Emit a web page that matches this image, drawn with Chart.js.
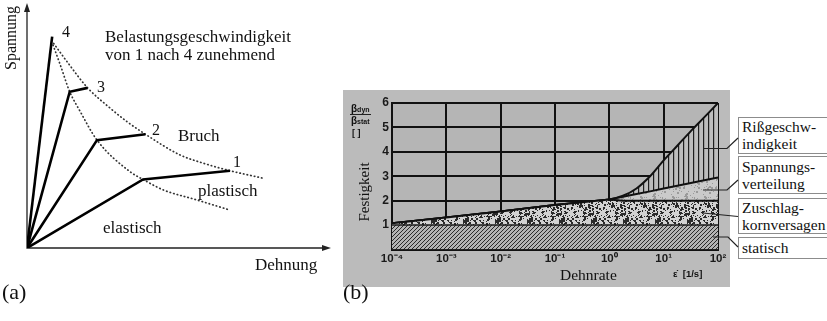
<!DOCTYPE html>
<html>
<head>
<meta charset="utf-8">
<script src="https://cdn.jsdelivr.net/npm/chart.js@4.4.1/dist/chart.umd.min.js"></script>
<style>
  body { margin: 0; width: 827px; height: 321px; position: relative; overflow: hidden; background: #fff; }
  canvas { position: absolute; }
  #chartA { left: 0; top: 0; }
  #chartB { left: 343px; top: 90px; background: #bbbbbb; }
  .t { position: absolute; white-space: nowrap; line-height: 1; color: #111; }
  .serif { font-family: "Liberation Serif", "Times New Roman", serif; }
  .sans { font-family: "Liberation Sans", Arial, sans-serif; font-weight: bold; }
  .box { position: absolute; left: 738px; width: 100px; border: 1.5px solid #8c8c8c; background: #fff;
         font-family: "Liberation Serif", serif; font-size: 15.5px; line-height: 16.5px; color: #111;
         padding-left: 3px; box-sizing: border-box; }
  #leaders { position: absolute; left: 0; top: 0; }
</style>
</head>
<body>
<canvas id="chartA" width="332" height="255"></canvas>
<canvas id="chartB" width="387" height="197"></canvas>

<div class="box" style="top:117px;height:37px;padding-top:1px">Rißgeschw-<br>indigkeit</div>
<div class="box" style="top:156px;height:38px;padding-top:2px">Spannungs-<br>verteilung</div>
<div class="box" style="top:198px;height:36px;padding-top:1px">Zuschlag-<br>kornversagen</div>
<div class="box" style="top:236.5px;height:22px;padding-top:2px">statisch</div>

<svg id="leaders" width="827" height="321">
  <g fill="none" stroke="#222" stroke-width="1.2">
    <polyline points="703,148.5 727,148.5 738,138"/>
    <polyline points="703,190 727,190 738,180"/>
    <polyline points="703,213 738,216.5"/>
    <polyline points="713,237 728,237 738,247"/>
  </g>
</svg>

<script>
// (a) Spannung-Dehnung, values in axis units 0..100
const curve1 = [[0, 0], [38.3, 28.2], [67.0, 31.8]];
const curve2 = [[0, 0], [23.1, 44.4], [39.1, 46.8]];
const curve3 = [[0, 0], [14.1, 64.3], [20.0, 65.9]];
const curve4 = [[0, 0], [8.3, 87.0]];
const bruchCurve = [[8.8, 84.2], [13.2, 76.7], [20.0, 65.9], [27.5, 57.5], [33.0, 52.0],
                    [39.1, 46.8], [50.5, 38.3], [58.2, 34.9], [67.0, 31.8], [78.0, 28.7]];
const fliessCurve = [[8.6, 83.5], [11.0, 75.3], [14.1, 64.3], [17.6, 56.1], [23.1, 44.4],
                     [34.0, 31.4], [38.3, 28.2], [45.0, 23.9], [56.0, 19.8], [67.0, 15.6]];

// (b) Festigkeit vs Dehnrate
const rateX = [1e-4, 1e-3, 1e-2, 1e-1, 1, 1.78, 3.16, 5.62, 10, 17.8, 31.6, 56.2, 100];
const statisch = [1, 1, 1, 1, 1, 1, 1, 1, 1, 1, 1, 1, 1];
const zuschlag = [1.07, 1.31, 1.56, 1.82, 2.05, 2.0, 2.0, 2.0, 2.0, 2.0, 2.0, 2.0, 2.0];
const spannung = [1.07, 1.31, 1.56, 1.82, 2.05, 2.16, 2.27, 2.38, 2.5, 2.61, 2.72, 2.84, 2.95];
const riss = [1.07, 1.31, 1.56, 1.82, 2.05, 2.2, 2.5, 3.0, 3.65, 4.25, 4.85, 5.42, 6.0];
const rateTicks = [1e-4, 1e-3, 1e-2, 1e-1, 1, 10, 100];
const rateTickLabels = ['10⁻⁴', '10⁻³', '10⁻²', '10⁻¹', '10⁰', '10¹', '10²'];

const toXY = arr => arr.map(p => ({ x: p[0], y: p[1] }));
const alongRate = vals => vals.map((v, i) => ({ x: rateX[i], y: v }));

// text helper: x = left edge, y = baseline
function label(text, x, y, size, cls, extra) {
    const d = document.createElement('div');
    d.className = 't ' + cls;
    d.innerHTML = text;
    d.style.left = x + 'px';
    d.style.top = (y - 0.84 * size) + 'px';
    d.style.fontSize = size + 'px';
    if (extra) Object.assign(d.style, extra);
    document.body.appendChild(d);
}
function rotated(text, cx, cy, size, cls) {
    const d = document.createElement('div');
    d.className = 't ' + cls;
    d.textContent = text;
    d.style.left = cx + 'px';
    d.style.top = cy + 'px';
    d.style.fontSize = size + 'px';
    d.style.transform = 'translate(-50%,-50%) rotate(-90deg)';
    document.body.appendChild(d);
}

// fill patterns (texture only)
function makePattern(w, h, bg, draw) {
    const c = document.createElement('canvas');
    c.width = w; c.height = h;
    const g = c.getContext('2d');
    g.fillStyle = bg;
    g.fillRect(0, 0, w, h);
    draw(g);
    return g.createPattern(c, 'repeat');
}
function speckle(g, w, h, n, color, seed) {
    let s = seed >>> 0;
    const next = () => {
        s = (s + 0x6D2B79F5) >>> 0;
        let t = s;
        t = Math.imul(t ^ (t >>> 15), t | 1);
        t ^= t + Math.imul(t ^ (t >>> 7), t | 61);
        return ((t ^ (t >>> 14)) >>> 0) / 4294967296;
    };
    g.fillStyle = color;
    for (let i = 0; i < n; i++) {
        const px = Math.floor(next() * w), py = Math.floor(next() * h);
        const big = next() < 0.3;
        g.fillRect(px, py, big ? 2 : 1, big ? 2 : 1);
    }
}
const diagPattern = makePattern(4, 4, '#b4b4b4', g => {
    g.strokeStyle = '#2b2b2b';
    g.lineWidth = 1;
    g.beginPath();
    g.moveTo(0, 4); g.lineTo(4, 0);
    g.moveTo(-1, 1); g.lineTo(1, -1);
    g.moveTo(3, 5); g.lineTo(5, 3);
    g.stroke();
});
const dotPattern = makePattern(32, 32, '#d2d2d2', g => speckle(g, 32, 32, 260, '#2a2a2a', 7));
const lightPattern = makePattern(32, 32, '#cacaca', g => speckle(g, 32, 32, 90, '#9a9a9a', 31));
const vertPattern = makePattern(5, 2, '#bdbdbd', g => {
    g.fillStyle = '#1e1e1e';
    g.fillRect(0, 0, 1.2, 2);
});

// axes with arrows for (a)
const arrowAxes = {
    id: 'arrowAxes',
    beforeDatasetsDraw(chart) {
        const { ctx, chartArea: a } = chart;
        ctx.save();
        ctx.strokeStyle = '#222';
        ctx.fillStyle = '#222';
        ctx.lineWidth = 1.3;
        ctx.beginPath();
        ctx.moveTo(a.left, a.top + 2);
        ctx.lineTo(a.left, a.bottom);
        ctx.lineTo(a.right - 2, a.bottom);
        ctx.stroke();
        ctx.beginPath();
        ctx.moveTo(a.left, a.top - 2);
        ctx.lineTo(a.left - 3, a.top + 7);
        ctx.lineTo(a.left + 3, a.top + 7);
        ctx.closePath();
        ctx.fill();
        ctx.beginPath();
        ctx.moveTo(a.right + 1, a.bottom);
        ctx.lineTo(a.right - 8, a.bottom - 3);
        ctx.lineTo(a.right - 8, a.bottom + 3);
        ctx.closePath();
        ctx.fill();
        ctx.restore();
    }
};

const plotBg = {
    id: 'plotBg',
    beforeDraw(chart) {
        const { ctx, chartArea: a } = chart;
        ctx.save();
        ctx.fillStyle = '#b5b5b5';
        ctx.fillRect(a.left, a.top, a.right - a.left, a.bottom - a.top);
        ctx.restore();
    }
};

const solid = data => ({ data: toXY(data), showLine: true, borderColor: '#000', borderWidth: 2.6, pointRadius: 0 });
const dotted = data => ({ data: toXY(data), showLine: true, borderColor: '#333', borderWidth: 1.7,
    borderDash: [0.5, 3.2], borderCapStyle: 'round', cubicInterpolationMode: 'monotone', pointRadius: 0 });

new Chart(document.getElementById('chartA'), {
    type: 'scatter',
    data: {
        datasets: [
            solid(curve1), solid(curve2), solid(curve3), solid(curve4),
            dotted(bruchCurve), dotted(fliessCurve)
        ]
    },
    options: {
        responsive: false,
        animation: false,
        layout: { padding: { left: 27, top: 5, right: 2, bottom: 7 } },
        plugins: { legend: { display: false }, tooltip: { enabled: false } },
        scales: {
            x: { display: false, min: 0, max: 100 },
            y: { display: false, min: 0, max: 100 }
        }
    },
    plugins: [arrowAxes]
});

const tickFont = size => ({ family: '"Liberation Sans", Arial, sans-serif', weight: 'bold', size: size });

new Chart(document.getElementById('chartB'), {
    type: 'line',
    data: {
        datasets: [
            { data: alongRate(statisch), fill: 'origin', backgroundColor: diagPattern, borderColor: '#1a1a1a', borderWidth: 1.5 },
            { data: alongRate(zuschlag), fill: '-1', backgroundColor: dotPattern, borderColor: '#111', borderWidth: 2 },
            { data: alongRate(spannung), fill: '-1', backgroundColor: lightPattern, borderColor: '#111', borderWidth: 2 },
            { data: alongRate(riss), fill: '-1', backgroundColor: vertPattern, borderColor: '#111', borderWidth: 2,
              tension: 0.3 }
        ]
    },
    options: {
        responsive: false,
        animation: false,
        layout: { padding: { left: 0, top: 13, right: 12, bottom: 0 } },
        elements: { point: { radius: 0 } },
        plugins: { legend: { display: false }, tooltip: { enabled: false } },
        scales: {
            x: {
                type: 'logarithmic', min: 1e-4, max: 100, z: 1,
                afterBuildTicks: s => { s.ticks = rateTicks.map(v => ({ value: v })); },
                ticks: { callback: (v, i) => rateTickLabels[i], font: tickFont(11.5), color: '#1a1a1a',
                         padding: 2, maxRotation: 0, autoSkip: false },
                grid: { color: '#111', lineWidth: 2, drawTicks: false },
                border: { color: '#111', width: 2 },
                afterFit: s => { s.height = 37.5; s.paddingLeft = 0; s.paddingRight = 0; }
            },
            y: {
                min: 0, max: 6, z: 1,
                ticks: { stepSize: 1, callback: v => (v === 0 ? '' : String(v)), font: tickFont(12),
                         color: '#1a1a1a', padding: 3 },
                grid: { color: '#111', lineWidth: 2, drawTicks: false },
                border: { color: '#111', width: 2 },
                afterFit: s => { s.width = 49; s.paddingTop = 0; s.paddingBottom = 0; }
            }
        }
    },
    plugins: [plotBg]
});

// (a) labels
rotated('Spannung', 11, 38, 16, 'serif');
label('Belastungsgeschwindigkeit', 105, 42, 17, 'serif');
label('von 1 nach 4 zunehmend', 105, 60.5, 17, 'serif');
label('4', 62, 37, 16, 'serif');
label('3', 97, 92, 16, 'serif');
label('2', 152, 135.5, 16, 'serif');
label('1', 233, 167, 16, 'serif');
label('Bruch', 178, 141.5, 17, 'serif');
label('plastisch', 198, 196.5, 17, 'serif');
label('elastisch', 103, 233, 17, 'serif');
label('Dehnung', 255, 270, 17, 'serif');
label('(a)', 2, 299, 22, 'serif');

// (b) labels
label('β<span style="font-size:7px">dyn</span>', 351, 112, 10, 'sans');
label('β<span style="font-size:7px">stat</span>', 351, 124, 10, 'sans');
label('[ ]', 352, 137, 9, 'sans');
const frac = document.createElement('div');
Object.assign(frac.style, { position: 'absolute', left: '350px', top: '114px', width: '21px', height: '1.2px', background: '#222' });
document.body.appendChild(frac);
rotated('Festigkeit', 364, 192, 15, 'serif');
label('Dehnrate', 560, 280, 15.5, 'serif');
label('ε̇&nbsp;&nbsp;[1/s]', 673, 277, 9.5, 'sans');
label('(b)', 343, 299, 22, 'serif');
</script>
</body>
</html>
